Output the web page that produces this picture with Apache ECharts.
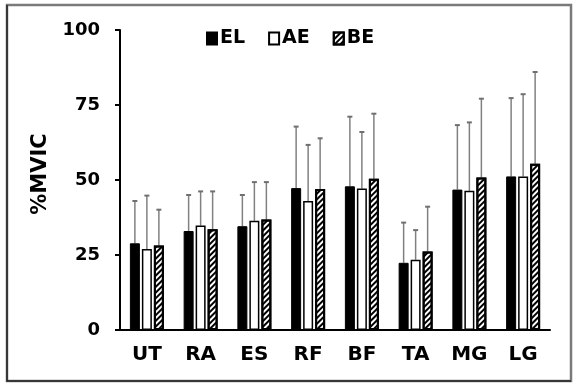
<!DOCTYPE html>
<html><head><meta charset="utf-8">
<script src="https://cdn.jsdelivr.net/npm/echarts@6/dist/echarts.min.js"></script>
<style>html,body{margin:0;padding:0;background:#fff}#c{width:581px;height:390px}</style>
</head><body><div id="c"></div>
<script>
var categories = ['UT','RA','ES','RF','BF','TA','MG','LG'];
var elMean = [28.9, 33.0, 34.6, 47.3, 47.9, 22.4, 46.8, 51.2];
var aeMean = [27.0, 34.8, 36.4, 43.0, 47.2, 23.4, 46.4, 51.2];
var beMean = [28.2, 33.6, 36.8, 47.0, 50.4, 26.2, 50.8, 55.4];
var elSD = [14.1, 12.0, 10.4, 20.5, 23.2, 13.4, 21.5, 26.1];
var aeSD = [17.8, 11.4, 12.9, 18.7, 18.8, 9.9, 22.8, 27.4];
var beSD = [11.9, 12.6, 12.5, 16.9, 21.7, 14.9, 26.3, 30.6];
var yTicks = [0, 25, 50, 75, 100];

var BAR_W = 10, GAP = 2;
function errSeries(means, sds, idx) {
  return {
    type: 'custom', z: 1, silent: true,
    data: means.map(function (m, i) { return [i, m, sds[i]]; }),
    encode: {x: 0, y: 1},
    renderItem: function (params, api) {
      var c = api.value(0), m = api.value(1), s = api.value(2);
      var off = (idx - 1) * (BAR_W + GAP);
      var p0 = api.coord([c, m]);
      var p1 = api.coord([c, m + s]);
      var x = p0[0] + off;
      return {type: 'group', children: [
        {type: 'line', shape: {x1: x, y1: p0[1], x2: x, y2: p1[1]}, style: {stroke: '#808080', lineWidth: 1.5}},
        {type: 'line', shape: {x1: x - 2.5, y1: p1[1], x2: x + 2.5, y2: p1[1]}, style: {stroke: '#707070', lineWidth: 2}}
      ]};
    }
  };
}
var FONT = 'DejaVu Sans';
var chart = echarts.init(document.getElementById('c'));
chart.setOption({
  animation: false,
  graphic: [
    {type: 'rect', shape: {x: 7, y: 5, width: 564, height: 376}, style: {fill: 'none', stroke: '#7a7a7a', lineWidth: 2.5}},
    {type: 'polyline', shape: {points: [[7, 5], [7, 381], [571, 381]]}, style: {fill: 'none', stroke: '#222', lineWidth: 1.5}}
  ],
  legend: {
    data: ['EL', 'AE', 'BE'], top: 24, left: 201, itemWidth: 10, itemHeight: 12, itemGap: 23,
    icon: 'rect',
    textStyle: {fontFamily: FONT, fontWeight: 'bold', fontSize: 19, color: '#000', padding: [0, 0, 0, -2]}
  },
  grid: {left: 120, right: 31, top: 30, bottom: 60},
  xAxis: {
    type: 'category', data: categories,
    axisLine: {lineStyle: {color: '#000', width: 2}},
    axisTick: {length: 5, lineStyle: {color: '#000', width: 2}},
    axisLabel: {fontFamily: FONT, fontWeight: 'bold', fontSize: 20, color: '#000', margin: 15}
  },
  yAxis: {
    type: 'value', min: yTicks[0], max: yTicks[yTicks.length - 1], interval: 25,
    name: '%MVIC', nameLocation: 'middle', nameGap: 63, nameRotate: 90,
    nameTextStyle: {fontFamily: FONT, fontWeight: 'bold', fontSize: 21, color: '#000', padding: [0, 0, 0, 12]},
    axisLine: {show: true, lineStyle: {color: '#000', width: 2}},
    axisTick: {show: true, length: 5, lineStyle: {color: '#000', width: 2}},
    splitLine: {show: false},
    axisLabel: {fontFamily: FONT, fontWeight: 'bold', fontSize: 18, color: '#000', margin: 20}
  },
  series: [
    {name: 'EL', type: 'bar', data: elMean, barWidth: BAR_W, barGap: '20%', z: 2,
     itemStyle: {color: '#000', borderColor: '#000', borderWidth: 1}},
    {name: 'AE', type: 'bar', data: aeMean, barWidth: BAR_W, barGap: '20%', z: 2,
     itemStyle: {color: '#fff', borderColor: '#000', borderWidth: 1.5}},
    {name: 'BE', type: 'bar', data: beMean, barWidth: BAR_W, barGap: '20%', z: 2,
     itemStyle: {color: '#fff', borderColor: '#000', borderWidth: 2,
       decal: {symbol: 'rect', symbolSize: 1, color: '#000', dashArrayX: [1, 0], dashArrayY: [1.5, 1.5], rotation: -Math.PI / 4}}},
    errSeries(elMean, elSD, 0),
    errSeries(aeMean, aeSD, 1),
    errSeries(beMean, beSD, 2)
  ]
});
</script></body></html>
